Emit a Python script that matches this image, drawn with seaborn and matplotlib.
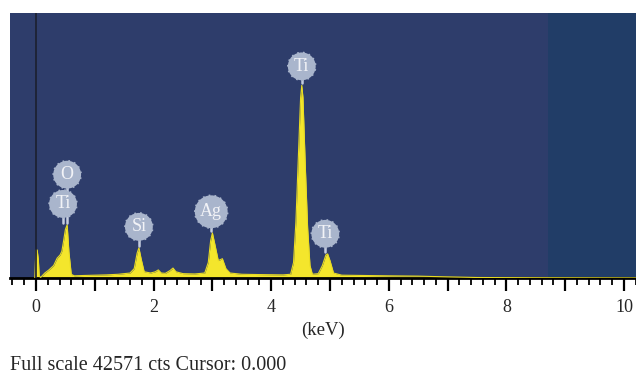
import numpy as np
import pandas as pd
import matplotlib
matplotlib.use("Agg")
import matplotlib.pyplot as plt
import seaborn as sns
from matplotlib.ticker import MultipleLocator, FuncFormatter

# EDS spectrum (energy in keV, counts)
energy = [-0.02, -0.01, 0.00, 0.02, 0.04, 0.055, 0.08, 0.10, 0.15, 0.22, 0.30, 0.36, 0.41,
          0.44, 0.47, 0.50, 0.53, 0.56, 0.60, 0.65, 0.80, 1.00, 1.20, 1.40, 1.50,
          1.60, 1.67, 1.72, 1.75, 1.79, 1.84, 1.95, 2.03, 2.08, 2.13, 2.20, 2.28,
          2.33, 2.38, 2.50, 2.70, 2.87, 2.93, 2.97, 3.00, 3.04, 3.10, 3.17, 3.23,
          3.30, 3.50, 3.80, 4.20, 4.33, 4.38, 4.42, 4.46, 4.50, 4.52, 4.54, 4.58,
          4.62, 4.66, 4.70, 4.80, 4.87, 4.93, 4.96, 5.00, 5.06, 5.20, 6.00, 6.50,
          7.00, 7.50, 8.50, 10.2]
counts = [0, 2500, 4500, 4500, 3000, 300, 100, 300, 800, 1300, 2000, 3200, 3700,
          4300, 6000, 7800, 8550, 4200, 600, 350, 400, 450, 500, 600, 700,
          800, 1500, 4000, 4850, 3000, 1000, 800, 1000, 1300, 800, 750, 1200,
          1600, 1000, 700, 650, 800, 2500, 6000, 7250, 5500, 2800, 3100, 1500,
          800, 600, 550, 500, 600, 2500, 9000, 19000, 29000, 30950, 29000, 18000,
          8000, 2000, 600, 700, 2000, 3700, 3870, 2800, 800, 450, 350, 300,
          180, 80, 40, 10]

# element labels: text, peak energy, peak height, badge height
lab_text = ["O", "Ti", "Si", "Ag", "Ti", "Ti"]
lab_x = [0.53, 0.46, 1.75, 2.98, 4.52, 4.92]
lab_peak = [8550, 8550, 4850, 7250, 30950, 3870]
lab_y = [16600, 11900, 8220, 10640, 34000, 7100]

full_scale = 42571

sns.set_style("white")
plt.rcParams["font.family"] = ["Liberation Serif", "DejaVu Serif"]

fig = plt.figure(figsize=(6.36, 3.75), dpi=100)
ax = fig.add_axes([10 / 636, 97 / 375, 626 / 636, 265 / 375])

bg = "#2e3d6b"
ax.set_facecolor(bg)
ax.axvspan(8.7, 10.3, color="#213d67", lw=0, zorder=0)

df = pd.DataFrame({"keV": energy, "cts": counts})
ax.fill_between(df["keV"], 0, df["cts"], color="#f4e62c", lw=0, zorder=2)
sns.lineplot(data=df, x="keV", y="cts", ax=ax, color="#e9dc22", lw=0.8, zorder=3)

# cursor line
ax.axvline(0, color="#1b1f2e", lw=1.2, zorder=4)

badge = "#a9b5cc"
for t, x, py, by in zip(lab_text, lab_x, lab_peak, lab_y):
    ax.plot([x, x], [py + 300, by], color="#c5cde0", lw=1.8, zorder=4)
for t, x, py, by in zip(lab_text, lab_x, lab_peak, lab_y):
    ax.text(x, by, t, ha="center", va="center", fontsize=13, color="#f2f3f7",
            zorder=5,
            bbox=dict(boxstyle="circle,pad=0.3", fc=badge, ec=badge, lw=1.2,
                      ls=(0, (1, 2.5))))

ax.set_xlim(-0.442, 10.204)
ax.set_ylim(0, full_scale)
ax.set_yticks([])
for s in ["top", "left", "right"]:
    ax.spines[s].set_visible(False)
ax.spines["bottom"].set_color("black")
ax.spines["bottom"].set_linewidth(2)

ax.xaxis.set_major_locator(MultipleLocator(1))
ax.xaxis.set_minor_locator(MultipleLocator(0.2))
ax.xaxis.set_major_formatter(FuncFormatter(lambda v, p: f"{int(round(v))}" if round(v) % 2 == 0 else ""))
ax.tick_params(axis="x", which="major", direction="out", length=9, width=1.6,
               color="black", labelsize=13, pad=6, bottom=True)
ax.tick_params(axis="x", which="minor", direction="out", length=5, width=1.3,
               color="black", bottom=True)
ax.set_xlabel("(keV)", fontsize=13.5, labelpad=4)
ax.set_ylabel("")

fig.text(10 / 636, 1 - 366 / 375, "Full scale 42571 cts Cursor: 0.000",
         ha="left", va="center", fontsize=14.5)

fig.savefig("out.png", dpi=100)
